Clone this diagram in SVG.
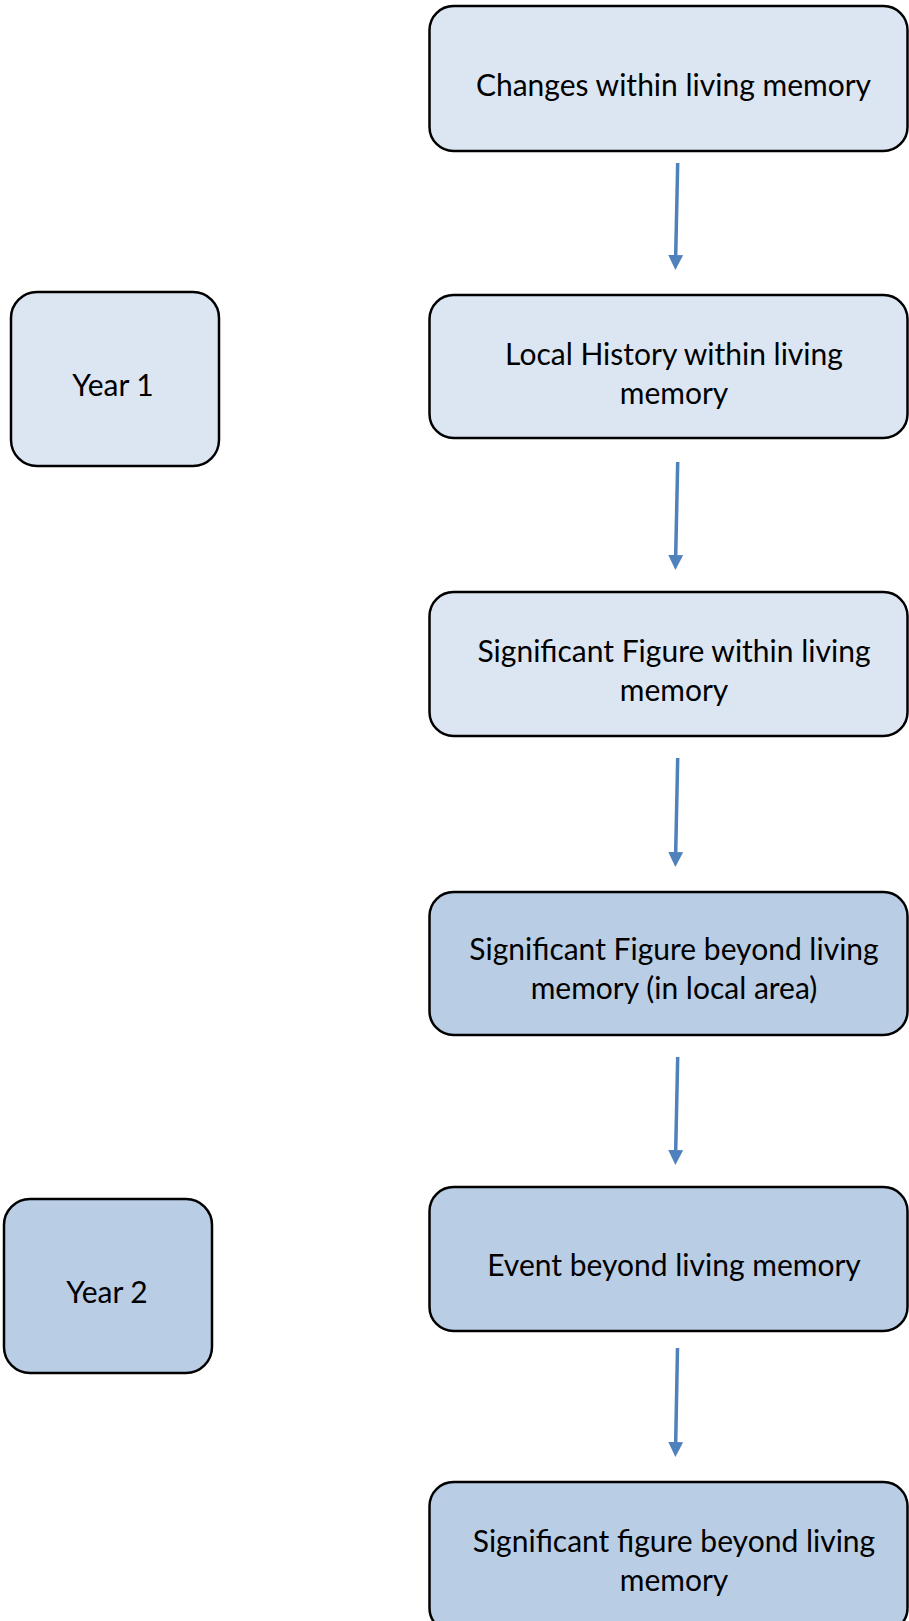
<svg xmlns="http://www.w3.org/2000/svg" width="909" height="1621" viewBox="0 0 909 1621">
<style>
.box{stroke:#000;stroke-width:2.5}
.l{fill:#DCE6F2}
.d{fill:#B9CDE5}
text{font-family:Lato,"Open Sans","Liberation Sans",sans-serif;font-size:30px;fill:#000;text-anchor:middle}
.c{stroke:#4F81BD;stroke-width:3.5;fill:none}
</style>
<defs>
<marker id="ah" viewBox="0 0 15 15" markerWidth="15" markerHeight="15" markerUnits="userSpaceOnUse" refX="0" refY="7.5" orient="auto">
<path d="M0,0 L15,7.5 L0,15 z" fill="#4F81BD"/>
</marker>
</defs>
<rect width="909" height="1621" fill="#fff"/>
<g id="n1"><rect class="box l" x="429.5" y="6" width="478" height="145" rx="24"/><text x="673.5" y="96">Changes within living memory</text></g>
<g id="n2"><rect class="box l" x="429.5" y="295" width="478" height="143" rx="24"/><text x="674" y="365">Local History within living</text><text x="674" y="404">memory</text></g>
<g id="n3"><rect class="box l" x="429.5" y="592" width="478" height="144" rx="24"/><text x="674" y="662">Significant Figure within living</text><text x="674" y="701">memory</text></g>
<g id="n4"><rect class="box d" x="429.5" y="892" width="478" height="143" rx="24"/><text x="674" y="960">Significant Figure beyond living</text><text x="674" y="999">memory (in local area)</text></g>
<g id="n5"><rect class="box d" x="429.5" y="1187" width="478" height="144" rx="24"/><text x="674" y="1276">Event beyond living memory</text></g>
<g id="n6"><rect class="box d" x="429.5" y="1482" width="478" height="150" rx="24"/><text x="674" y="1552">Significant figure beyond living</text><text x="674" y="1591">memory</text></g>
<g id="y1"><rect class="box l" x="11" y="292" width="208" height="174" rx="26"/><text x="113" y="396">Year 1</text></g>
<g id="y2"><rect class="box d" x="4" y="1199" width="208" height="174" rx="26"/><text x="107" y="1303">Year 2</text></g>
<g id="connectors">
<line class="c" x1="677.7" y1="163" x2="675.7" y2="255" marker-end="url(#ah)"/>
<line class="c" x1="677.7" y1="462" x2="675.7" y2="555" marker-end="url(#ah)"/>
<line class="c" x1="677.7" y1="758" x2="675.7" y2="852" marker-end="url(#ah)"/>
<line class="c" x1="677.7" y1="1057" x2="675.7" y2="1150" marker-end="url(#ah)"/>
<line class="c" x1="677.5" y1="1348" x2="675.7" y2="1442" marker-end="url(#ah)"/>
</g>
</svg>
